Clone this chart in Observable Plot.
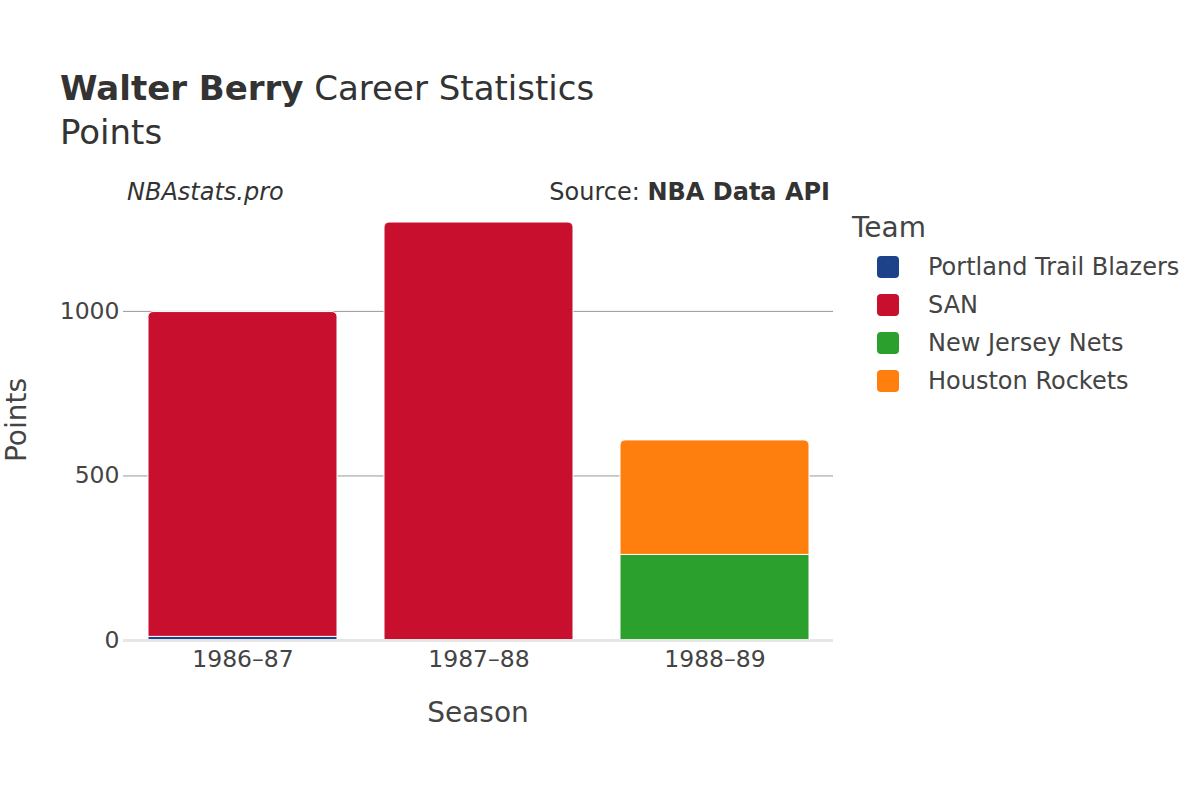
<!DOCTYPE html>
<html>
<head>
<meta charset="utf-8">
<script src="https://cdn.jsdelivr.net/npm/d3@7"></script>
<script src="https://cdn.jsdelivr.net/npm/@observablehq/plot@0.6"></script>
<style>
  html, body { margin: 0; padding: 0; background: #fff; }
  #wrap { position: relative; width: 1200px; height: 800px; font-family: "DejaVu Sans", sans-serif; color: #333; overflow: hidden; }
  .abs { position: absolute; white-space: nowrap; }
</style>
</head>
<body>
<div id="wrap"></div>
<script>
// ---- data ----
const seasons = ["1986–87", "1987–88", "1988–89"];
const teams = ["Portland Trail Blazers", "SAN", "New Jersey Nets", "Houston Rockets"];
const teamColors = ["#1D428A", "#C8102E", "#2CA02C", "#FF7F0E"];
const recSeason = ["1986–87", "1986–87", "1987–88", "1988–89", "1988–89"];
const recTeam = ["Portland Trail Blazers", "SAN", "SAN", "New Jersey Nets", "Houston Rockets"];
const recPoints = [11, 987, 1270, 260, 348];
const yTicks = [0, 500, 1000];

// build stacked table
const cum = {};
const rows = recSeason.map((s, i) => {
  const base = cum[s] || 0;
  cum[s] = base + recPoints[i];
  return { season: s, team: recTeam[i], points: recPoints[i], y1: base, y2: base + recPoints[i] };
});
rows.forEach(r => { r.top = r.y2 === cum[r.season]; });

const chart = Plot.plot({
  width: 1200,
  height: 800,
  marginLeft: 123,
  marginRight: 367,
  marginTop: 199,
  marginBottom: 160,
  style: { fontFamily: "DejaVu Sans, sans-serif", fontSize: "23.5px", color: "#444", background: "#fff" },
  x: { domain: seasons, paddingInner: 0.2, paddingOuter: 0.1, label: null },
  y: { domain: [0, 1340], label: null },
  color: { domain: teams, range: teamColors },
  marks: [
    Plot.ruleY(yTicks.filter(d => d > 0), { stroke: "#999", strokeWidth: 1 }),
    Plot.rectY(rows.filter(r => !r.top), { x: "season", y1: "y1", y2: "y2", fill: "team", stroke: "#fff", strokeWidth: 1 }),
    Plot.rectY(rows.filter(r => r.top), { x: "season", y1: "y1", y2: "y2", fill: "team", stroke: "#fff", strokeWidth: 1, ry2: 5, rx: 0 }),
    Plot.ruleY([0], { stroke: "#e6e6e6", strokeWidth: 3 }),
    Plot.axisY({ ticks: yTicks, tickFormat: d3.format("d"), tickSize: 0, tickPadding: 4, label: null, fontSize: 23.5, fill: "#444" }),
    Plot.axisX({ tickSize: 0, tickPadding: 10, label: null, fontSize: 23.5, fill: "#444" })
  ]
});

const wrap = document.getElementById("wrap");
chart.style.position = "absolute";
chart.style.left = "0px";
chart.style.top = "0px";
wrap.appendChild(chart);

function addText(html, css) {
  const d = document.createElement("div");
  d.className = "abs";
  d.innerHTML = html;
  Object.assign(d.style, css);
  wrap.appendChild(d);
  return d;
}

addText('<b>Walter Berry</b> Career Statistics', { left: "60px", top: "68px", fontSize: "34px", color: "#333" });
addText('Points', { left: "60px", top: "112px", fontSize: "34px", color: "#333" });
addText('<i>NBAstats.pro</i>', { left: "127px", top: "178px", fontSize: "24px", color: "#333" });
addText('Source: <b>NBA Data API</b>', { right: "370px", top: "178px", fontSize: "24px", color: "#333" });
addText('Season', { left: "478px", top: "696px", fontSize: "28px", color: "#444", transform: "translateX(-50%)" });
addText('Points', { left: "16px", top: "420px", fontSize: "28px", color: "#444", transform: "translate(-50%, -50%) rotate(-90deg)", transformOrigin: "center" });

// legend
addText('Team', { left: "852px", top: "211px", fontSize: "28px", color: "#444" });
teams.forEach((t, i) => {
  const y = 267 + i * 38;
  const sw = document.createElement("div");
  Object.assign(sw.style, { position: "absolute", left: "877px", top: (y - 11) + "px", width: "22px", height: "22px", borderRadius: "4px", background: teamColors[i] });
  wrap.appendChild(sw);
  addText(t, { left: "928px", top: (y - 14) + "px", fontSize: "24px", color: "#444" });
});
</script>
</body>
</html>
